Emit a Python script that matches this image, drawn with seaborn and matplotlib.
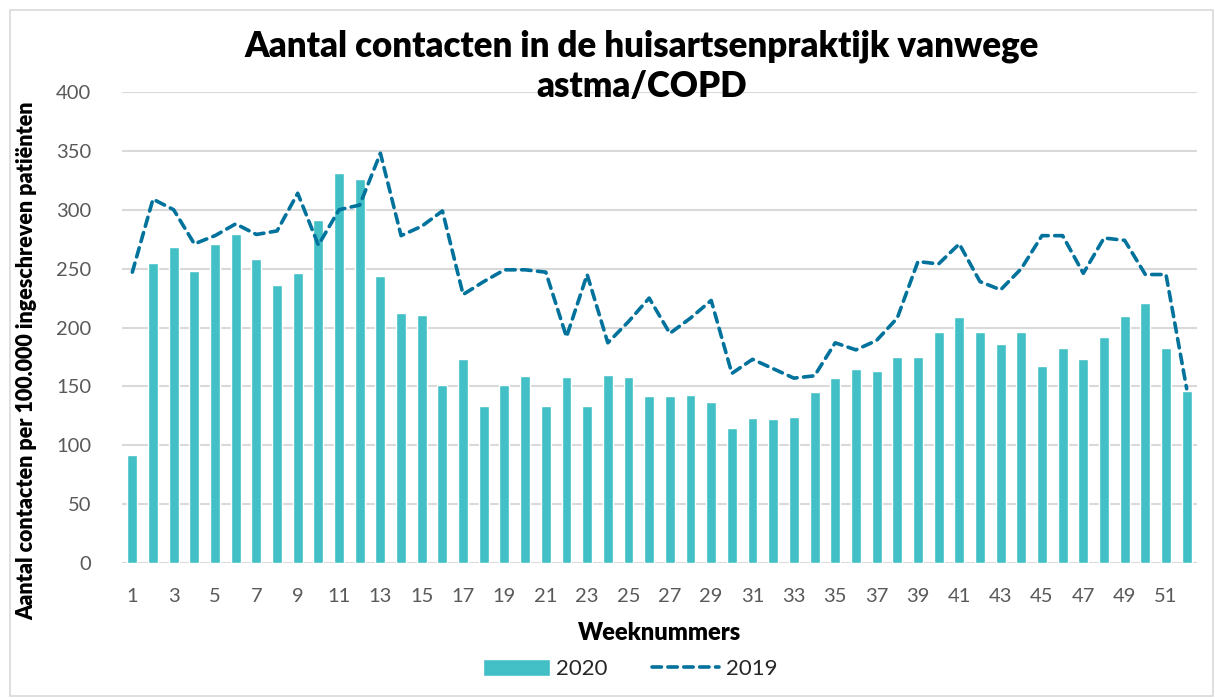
import numpy as np
import pandas as pd
import matplotlib.pyplot as plt
import seaborn as sns
from matplotlib.patches import Rectangle

weeks = list(range(1, 53))
contacts_2020 = [92, 255, 268, 248, 271, 279, 258, 236, 246, 291, 331, 326, 244,
                 212, 211, 151, 173, 133, 151, 159, 133, 158, 133, 160, 158, 142,
                 142, 143, 137, 115, 123, 122, 124, 145, 157, 165, 163, 175, 175,
                 196, 209, 196, 186, 196, 167, 183, 173, 192, 210, 221, 183, 146]
contacts_2019 = [247, 309, 300, 271, 278, 288, 279, 282, 314, 270, 300, 304, 348,
                 278, 286, 299, 228, 239, 249, 249, 247, 192, 245, 187, 205, 225,
                 195, 208, 223, 161, 173, 165, 157, 159, 187, 181, 189, 208, 256,
                 254, 271, 239, 232, 250, 278, 278, 246, 276, 274, 245, 245, 148]

df = pd.DataFrame({'week': weeks, '2020': contacts_2020, '2019': contacts_2019})
df['pos'] = np.arange(len(df))

bar_color = '#43C0C6'
line_color = '#00729C'
tick_color = '#595959'
font = 'Lato'

sns.set_style('white')
plt.rcParams['font.family'] = [font, 'DejaVu Sans']

fig = plt.figure(figsize=(12.15, 6.98), dpi=100)
ax = fig.add_axes([0.1004, 0.1934, 0.8848, 0.6748])

sns.barplot(data=df, x='week', y='2020', color=bar_color, width=0.48,
            saturation=1, ax=ax, label='2020', zorder=2)
sns.lineplot(data=df, x='pos', y='2019', color=line_color, linewidth=2.6,
             linestyle=(0, (2.6, 1.8)), ax=ax, label='2019', zorder=3)
for line in ax.lines:
    line.set_dash_capstyle('round')

ax.set_xlim(-0.5, len(weeks) - 0.5)
ax.set_ylim(0, 400)
ax.set_yticks(range(0, 401, 50))
ax.set_xticks(df['pos'][::2])
ax.set_xticklabels(df['week'][::2])
ax.tick_params(axis='both', colors=tick_color, labelsize=14.5, length=0)
ax.tick_params(axis='x', pad=18)
ax.tick_params(axis='y', pad=22)
ax.grid(axis='y', color='#D9D9D9', linewidth=1.5, zorder=0)
ax.set_axisbelow(True)
for s in ax.spines.values():
    s.set_visible(False)

ax.set_xlabel('Weeknummers', fontsize=17, fontweight='heavy', labelpad=12, color='black')
ax.set_ylabel('Aantal contacten per 100.000 ingeschreven patiënten',
              fontsize=15.5, fontweight='heavy', color='black')
ax.yaxis.set_label_coords(-0.079, 0.43)

fig.text(0.528, 0.905, 'Aantal contacten in de huisartsenpraktijk vanwege\nastma/COPD',
         ha='center', va='center', fontsize=25, fontweight='heavy', color='black',
         linespacing=1.25, zorder=5)

handles, labels = ax.get_legend_handles_labels()
order = [labels.index('2020'), labels.index('2019')]
ax.legend([handles[i] for i in order], [labels[i] for i in order],
          loc='center', bbox_to_anchor=(0.5185, 0.042),
          bbox_transform=fig.transFigure, ncol=2, frameon=False,
          fontsize=16, handlelength=3.0, handleheight=0.8, columnspacing=2.0,
          handletextpad=0.3)

fig.patches.append(Rectangle((0.008, 0.003), 0.99, 0.983, transform=fig.transFigure,
                             fill=False, edgecolor='#D9D9D9', linewidth=1.2))

fig.savefig('out.png', dpi=100)
